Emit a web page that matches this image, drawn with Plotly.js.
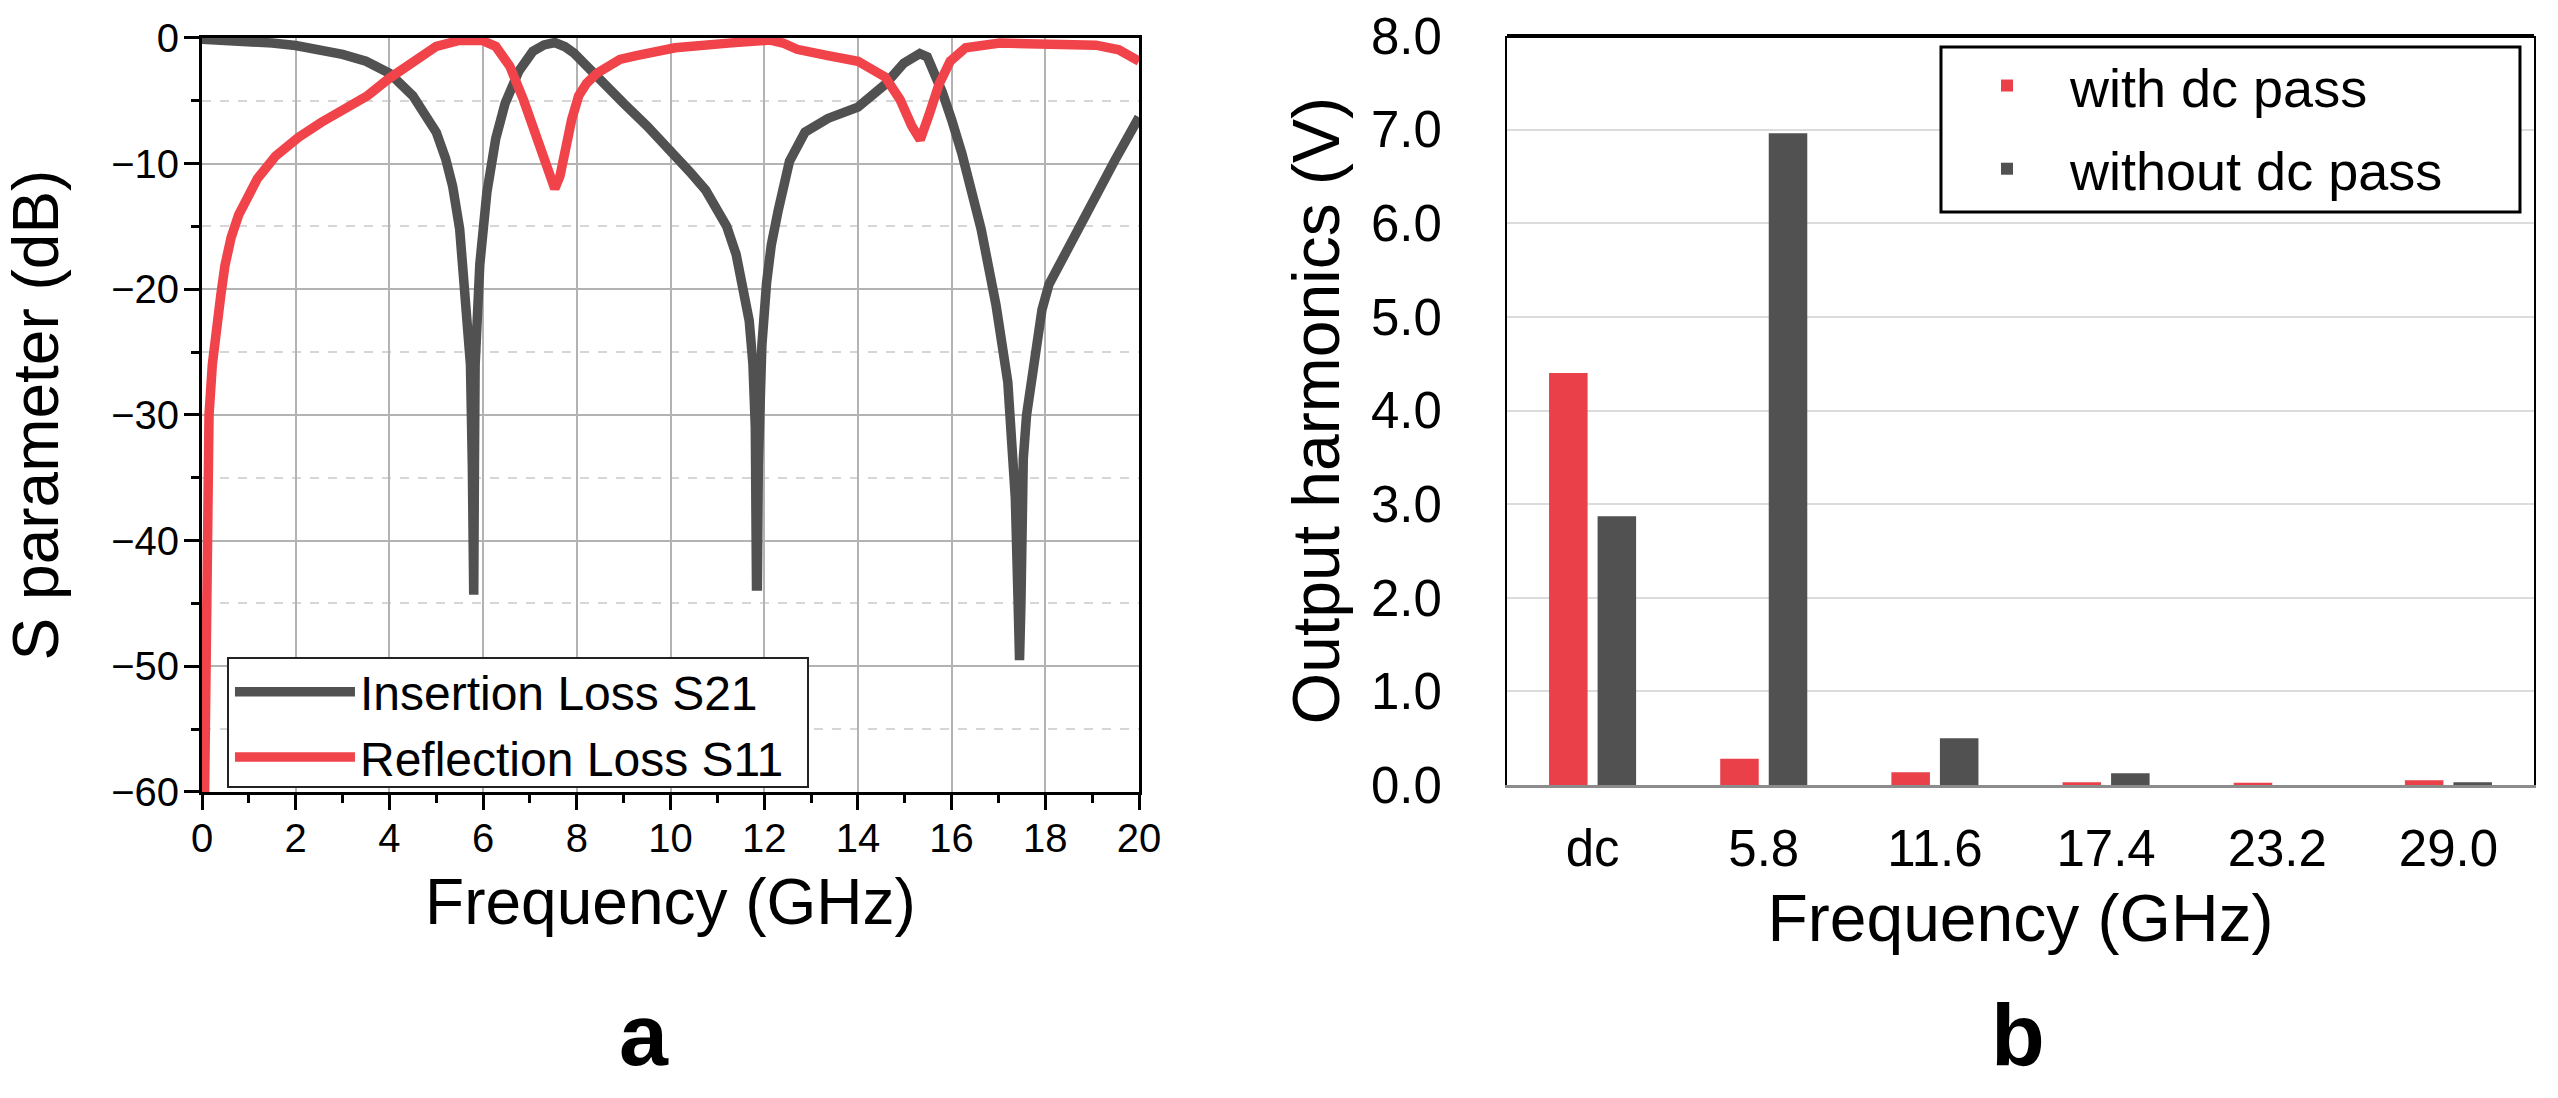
<!DOCTYPE html>
<html>
<head>
<meta charset="utf-8">
<script src="https://cdn.plot.ly/plotly-3.0.1.min.js"></script>
<style>html,body{margin:0;padding:0;background:#fff;}#chart{width:2558px;height:1098px;}</style>
</head>
<body>
<div id="chart"></div>
<script>
// ---- Panel a: S parameters ----
const freqS21 = [0, 0.5, 1, 1.5, 2, 2.5, 3, 3.5, 4, 4.5, 4.8, 5.0, 5.2, 5.35, 5.5, 5.63, 5.73, 5.77, 5.785, 5.80, 5.815, 5.83, 5.93, 6.08, 6.27, 6.47, 6.76, 7.06, 7.3, 7.53, 7.75, 7.94, 8.2, 8.6, 9.0, 9.5, 10.0, 10.4, 10.75, 11.0, 11.2, 11.4, 11.55, 11.68, 11.76, 11.81, 11.835, 11.855, 11.875, 11.9, 11.95, 12.05, 12.15, 12.3, 12.54, 12.87, 13.36, 14.0, 14.58, 14.98, 15.15, 15.32, 15.48, 15.6, 15.8, 16.0, 16.22, 16.63, 16.95, 17.2, 17.36, 17.42, 17.45, 17.48, 17.53, 17.6, 17.69, 17.8, 17.93, 18.08, 18.26, 18.45, 18.67, 19.08, 19.49, 20.0];
const s21 = [-0.1, -0.15, -0.25, -0.4, -0.6, -0.9, -1.3, -1.85, -2.8, -4.6, -6.2, -7.5, -9.6, -11.8, -15.2, -20.7, -26, -34, -44.3, -44.3, -34, -26, -18, -12.3, -8.0, -5.2, -2.65, -1.07, -0.55, -0.36, -0.7, -1.2, -2.2, -3.9, -5.2, -7.0, -8.9, -10.6, -12.1, -13.6, -15.0, -17.2, -19.6, -22.5, -26, -31, -43.6, -43.6, -34, -28.5, -24.5, -19.5, -16.5, -13.7, -9.8, -7.5, -6.4, -5.5, -3.7, -2.0, -1.5, -1.24, -1.5, -2.5, -4.3, -6.5, -9.2, -15.2, -21.3, -27.4, -36.6, -45, -49.5, -45, -33.5, -30, -27.4, -24.2, -21.6, -19.6, -18.3, -16.8, -15.3, -12.3, -9.7, -6.3];

const freqS11 = [0.04, 0.06, 0.08, 0.1, 0.15, 0.22, 0.29, 0.4, 0.49, 0.62, 0.78, 1.0, 1.18, 1.57, 2.06, 2.55, 3.0, 3.53, 4.0, 4.5, 5.0, 5.49, 5.75, 5.98, 6.27, 6.57, 6.86, 7.16, 7.38, 7.53, 7.64, 7.74, 7.89, 8.04, 8.21, 8.43, 8.7, 8.92, 9.27, 9.9, 10.1, 11.3, 12.13, 12.4, 12.7, 13.36, 14.0, 14.58, 14.9, 15.15, 15.33, 15.52, 15.73, 15.97, 16.3, 17.03, 18.26, 19.08, 19.57, 20.0];
const s11 = [-65, -55, -45, -38, -30, -26, -23.4, -20.5, -18.1, -15.9, -14.1, -12.4, -11.2, -9.4, -7.9, -6.7, -5.7, -4.6, -3.2, -1.86, -0.67, -0.2, -0.1, -0.2, -0.67, -2.25, -4.9, -8.06, -10.5, -12.0, -11.0, -9.1, -6.5, -4.6, -3.6, -2.8, -2.2, -1.7, -1.4, -0.8, -0.78, -0.39, -0.17, -0.4, -0.9, -1.4, -1.85, -3.1, -4.9, -7.0, -8.1, -6.1, -3.7, -1.85, -0.78, -0.4, -0.4, -0.57, -0.94, -1.85];

const nameS21 = 'Insertion Loss S21';
const nameS11 = 'Reflection Loss S11';

// ---- Panel b: output harmonics ----
const harmonicCats = ['dc', '5.8', '11.6', '17.4', '23.2', '29.0'];
const withDcPass = [4.40, 0.28, 0.135, 0.03, 0.025, 0.05];
const withoutDcPass = [2.87, 6.96, 0.50, 0.125, 0.0, 0.03];
const yTicksB = [0, 1, 2, 3, 4, 5, 6, 7, 8];

const FONT = 'Arial, "Liberation Sans", Helvetica, sans-serif';
const GRAY = '#515151';
const RED_LINE = '#f0434a';
const RED_BAR = '#e9404a';

const traces = [
  {type:'scatter', mode:'lines', x:freqS21, y:s21, name:nameS21, xaxis:'x', yaxis:'y',
   line:{color:GRAY, width:9.5}, legend:'legend'},
  {type:'scatter', mode:'lines', x:freqS11, y:s11, name:nameS11, xaxis:'x', yaxis:'y',
   line:{color:RED_LINE, width:9.5}, legend:'legend'},
  {type:'bar', x:harmonicCats, y:withDcPass, name:'with dc pass', xaxis:'x2', yaxis:'y2',
   marker:{color:RED_BAR}, legend:'legend2', legendgroup:'g1'},
  {type:'bar', x:harmonicCats, y:withoutDcPass, name:'without dc pass', xaxis:'x2', yaxis:'y2',
   marker:{color:GRAY}, legend:'legend2', legendgroup:'g2'}
];

const layout = {
  width:2558, height:1098,
  margin:{l:0, r:0, t:0, b:0},
  paper_bgcolor:'#fff', plot_bgcolor:'#fff',
  font:{family:FONT, color:'#000'},
  showlegend:true,
  xaxis:{
    domain:[0.07897, 0.44527], anchor:'y', range:[0, 20], tick0:0, dtick:2,
    ticks:'outside', ticklen:15, tickwidth:3, tickcolor:'#000',
    showline:true, linewidth:3, linecolor:'#000', mirror:true,
    showgrid:true, gridcolor:'#b3b3b3', gridwidth:2, zeroline:false,
    tickfont:{size:40, family:FONT}, ticklabelstandoff:-6,
    minor:{dtick:1, ticks:'outside', ticklen:8, tickwidth:3, tickcolor:'#000', showgrid:false},
    title:{text:'Frequency (GHz)', font:{size:64, family:FONT}, standoff:21}
  },
  yaxis:{
    domain:[0.2787, 0.9654], anchor:'x', range:[-60, 0], tick0:0, dtick:10,
    ticks:'outside', ticklen:15, tickwidth:3, tickcolor:'#000',
    showline:true, linewidth:3, linecolor:'#000', mirror:true,
    showgrid:true, gridcolor:'#b3b3b3', gridwidth:2, zeroline:false,
    tickfont:{size:40, family:FONT}, ticklabelstandoff:-3,
    minor:{dtick:5, ticks:'outside', ticklen:8, tickwidth:3, tickcolor:'#000',
           showgrid:true, gridcolor:'#d6d6d6', gridwidth:1.5, griddash:'dash'},
    title:{text:'S parameter (dB)', font:{size:64, family:FONT}, standoff:32}
  },
  xaxis2:{
    domain:[0.58913, 0.99062], anchor:'y2', type:'category',
    categoryorder:'array', categoryarray:harmonicCats,
    ticks:'', showline:true, linewidth:3, linecolor:'#8c8c8c', mirror:false,
    showgrid:false, zeroline:false,
    tickfont:{size:51, family:FONT}, ticklabelstandoff:17,
    title:{text:'Frequency (GHz)', font:{size:66, family:FONT}, standoff:19}
  },
  yaxis2:{
    domain:[0.28506, 0.96721], anchor:'x2', range:[0, 8],
    tickmode:'array', tickvals:yTicksB, tickformat:'.1f',
    ticks:'', showline:true, linewidth:2, linecolor:'#000', mirror:true,
    showgrid:true, gridcolor:'#dcdcdc', gridwidth:2, zeroline:false,
    tickfont:{size:51, family:FONT}, ticklabelstandoff:53,
    title:{text:'Output harmonics (V)', font:{size:66, family:FONT}, standoff:10}
  },
  barmode:'group', bargap:0.433, bargroupgap:0.206,
  legend:{
    x:0.0899, y:0.4044, xanchor:'left', yanchor:'top',
    bgcolor:'rgba(0,0,0,0)', borderwidth:0,
    font:{size:48, family:FONT}, itemwidth:120, traceorder:'normal'
  },
  legend2:{
    x:0.75997, y:0.96, xanchor:'left', yanchor:'top',
    bgcolor:'rgba(0,0,0,0)', borderwidth:0,
    font:{size:54, family:FONT}, itemwidth:116, traceorder:'grouped', tracegroupgap:10
  },
  shapes:[
    {type:'line', xref:'x2 domain', yref:'y2 domain', x0:0, x1:1, y0:1, y1:1,
     line:{color:'#000', width:4}},
    // legend frames
    {type:'rect', xref:'paper', yref:'paper', x0:0.08913, x1:0.31587, y0:0.28324, y1:0.40073,
     line:{color:'#222', width:2}, fillcolor:'#fff', layer:'above'},
    {type:'rect', xref:'paper', yref:'paper', x0:0.75879, x1:0.98514, y0:0.80692, y1:0.95719,
     line:{color:'#000', width:3}, fillcolor:'#fff', layer:'above'}
  ],
  annotations:[
    {text:'<b>a</b>', xref:'paper', yref:'paper', x:0.2518, y:0.0574, xanchor:'center', yanchor:'middle',
     showarrow:false, font:{size:88, family:FONT, color:'#000'}},
    {text:'<b>b</b>', xref:'paper', yref:'paper', x:0.789, y:0.0574, xanchor:'center', yanchor:'middle',
     showarrow:false, font:{size:88, family:FONT, color:'#000'}}
  ]
};

Plotly.newPlot('chart', traces, layout, {displayModeBar:false, responsive:false});
</script>
</body>
</html>
